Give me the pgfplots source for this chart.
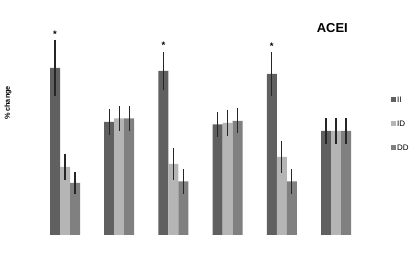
\documentclass[border=0pt]{standalone}
\usepackage{fontspec}
\setmainfont{Liberation Sans}
\usepackage{pgfplots}
\pgfplotsset{compat=1.18}
\definecolor{cII}{RGB}{96,96,96}
\definecolor{cID}{RGB}{181,181,181}
\definecolor{cDD}{RGB}{128,128,128}
\begin{document}
\begin{tikzpicture}
\begin{axis}[
 at={(0,0)}, anchor=south west,
 width=417bp, height=259bp, scale only axis,
 xmin=-0.1993, xmax=7.4944, ymin=-24, ymax=235,
 axis line style={draw=none}, xtick=\empty, ytick=\empty,
 clip=false,
 ybar=0pt, bar width=10bp,
 error bars/y dir=both, error bars/y explicit, error bars/error mark=none,
 error bars/error bar style={line width=1.2bp, color=black!85},
 ylabel={\% change},
 ylabel style={at={(rel axis cs:0.0192,0.6023)}, anchor=center, inner sep=0pt, font=\bfseries\fontsize{7.3}{8}\selectfont},
 legend image code/.code={\fill[#1] (0bp,-2.2bp) rectangle (4.4bp,2.2bp);},
 legend style={at={(axis cs:7.015,140)}, anchor=north west, draw=none, fill=none, inner sep=0pt,
   row sep=15bp, font=\fontsize{8}{9}\selectfont,
   nodes={inner sep=1.5bp, text height=6bp, text depth=0pt}},
 legend cell align=left,
]
\addplot[fill=cII, draw=none] coordinates {
 (1,167) +- (0,28)
 (2,113) +- (0,13)
 (3,164) +- (0,19)
 (4,110.5) +- (0,12.5)
 (5,161) +- (0,22)
 (6,104) +- (0,13)
};
\addplot[fill=cID, draw=none] coordinates {
 (1,68) +- (0,13)
 (2,116.5) +- (0,12.5)
 (3,71) +- (0,16)
 (4,112) +- (0,13)
 (5,78) +- (0,16)
 (6,104) +- (0,13)
};
\addplot[fill=cDD, draw=none] coordinates {
 (1,52) +- (0,11)
 (2,116.5) +- (0,12.5)
 (3,53.5) +- (0,12.5)
 (4,114) +- (0,12.5)
 (5,53.5) +- (0,12.5)
 (6,104) +- (0,13)
};
\legend{II,ID,DD}
\node[font=\bfseries\fontsize{13}{14}\selectfont, inner sep=0pt, anchor=base] at (rel axis cs:0.797,0.8764) {ACEI};
\node[font=\bfseries\fontsize{9.5}{9.5}\selectfont] at (axis cs:0.8155,201) {*};
\node[font=\bfseries\fontsize{9.5}{9.5}\selectfont] at (axis cs:2.8155,190) {*};
\node[font=\bfseries\fontsize{9.5}{9.5}\selectfont] at (axis cs:4.8155,189) {*};
\end{axis}
\pgfresetboundingbox
\useasboundingbox (0,0) rectangle (417bp,259bp);
\end{tikzpicture}
\end{document}
